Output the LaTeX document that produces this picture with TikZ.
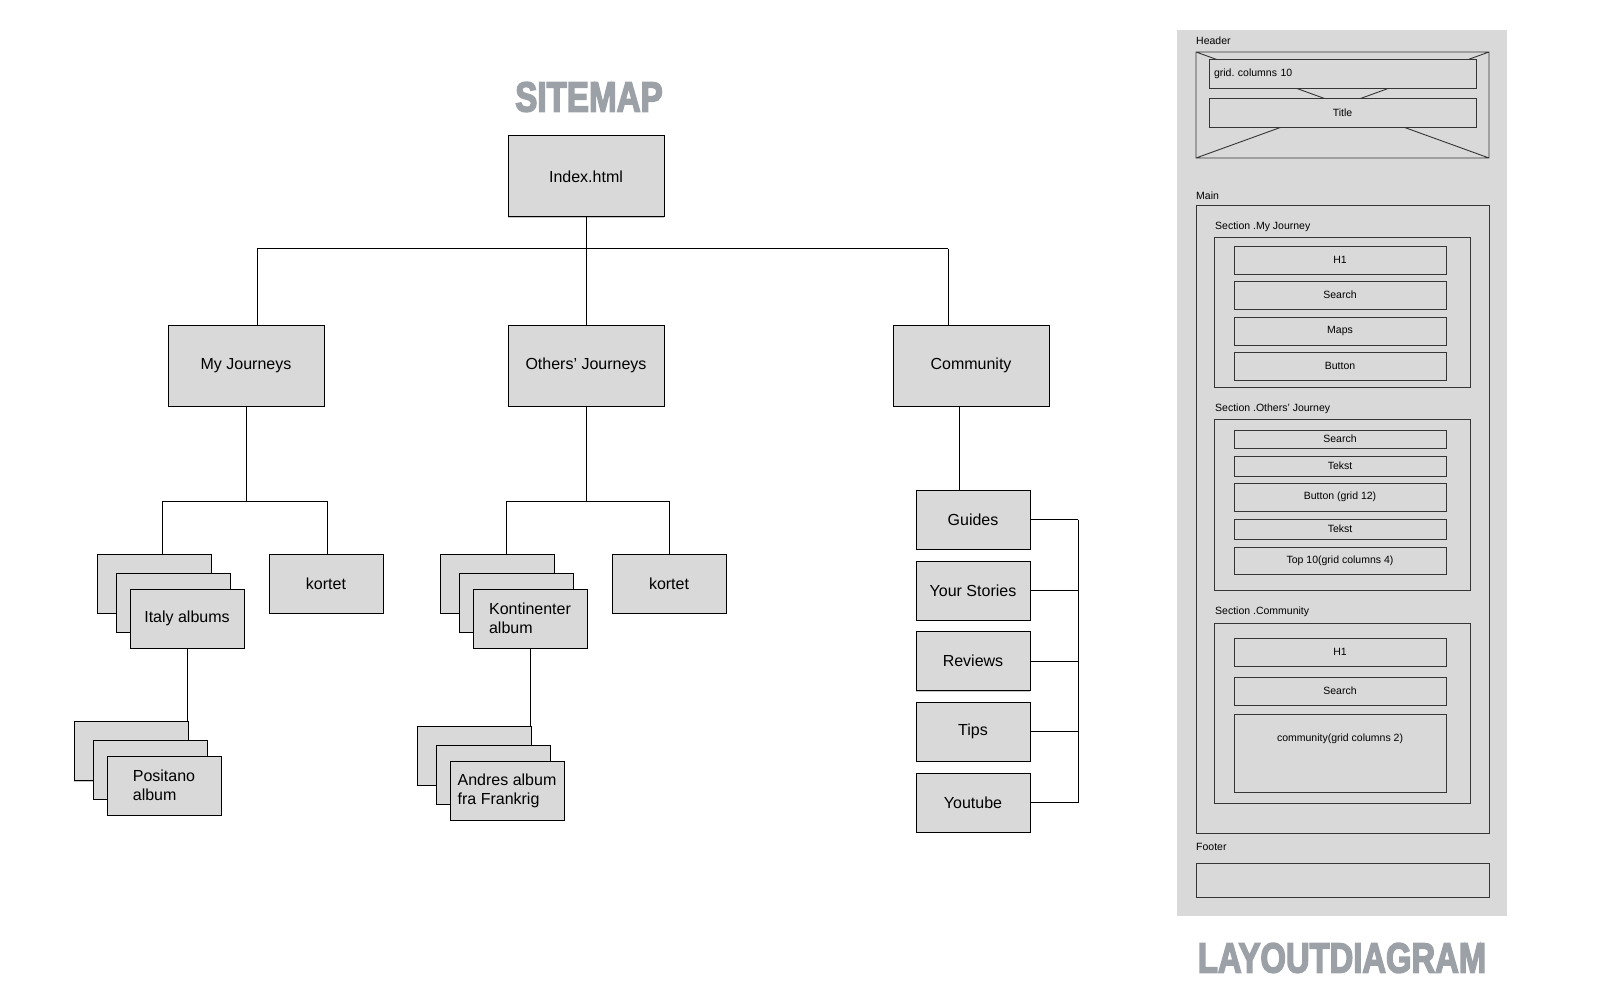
\documentclass[tikz,border=0pt]{standalone}
\usepackage{fontspec}
\setmainfont{Liberation Sans}
\newfontfamily\headfont[FakeBold=4]{Liberation Sans Bold}
\usepackage{graphicx}
\usetikzlibrary{shadows}
\definecolor{boxgray}{HTML}{D9D9D9}
\definecolor{titlegray}{HTML}{9BA1A6}
\definecolor{wiregray}{HTML}{353535}
\frenchspacing
\tikzset{
  page/.style={draw=black, line width=1pt, fill=boxgray, minimum width=114pt, minimum height=59pt, inner sep=0pt,
    font=\fontsize{16}{19}\selectfont, drop shadow={shadow xshift=0pt, shadow yshift=-1.2pt, opacity=0.45}},
  toppage/.style={page, minimum width=156pt, minimum height=81pt},
  link/.style={line width=1pt},
  frame/.style={draw=wiregray, line width=0.9pt},
  wire/.style={frame, fill=boxgray, minimum width=212pt, inner sep=0pt, font=\fontsize{10.5}{12}\selectfont},
  wlabel/.style={anchor=west, inner sep=0pt, font=\fontsize{10.5}{12}\selectfont},
  bigtitle/.style={text=titlegray, inner sep=0pt, font=\headfont\fontsize{42}{42}\selectfont},
}
\begin{document}
\begin{tikzpicture}[x=1pt,y=-1pt]
        \useasboundingbox (0,0) rectangle (1600,1000);
        % sitemap
        \node[bigtitle] (sitemap) at (589,97) {\scalebox{0.79}[1]{SITEMAP}};
        \node[toppage] (index) at (586,176.5) {Index.html};
        \node[toppage] (myj) at (246,365.5) {My Journeys};
        \node[toppage] (others) at (586,365.5) {Others’ Journeys};
        \node[toppage] (comm) at (971,365.5) {Community};
        \coordinate (busL) at (257,249);
        \coordinate (busR) at (948,249);
        \draw[link] (index.south) -- (others.north);
        \draw[link] (busL) -- (busR);
        \draw[link] (busL) -- (busL |- myj.north);
        \draw[link] (busR) -- (busR |- comm.north);

        \node[page] (italyback) at (154,583.5) {};
        \node[page] (italymid) at (173,602.5) {};
        \node[page] (italy) at (187,618.5) {Italy albums};
        \node[page] (kortetA) at (326,583.5) {kortet};
        \node[page] (positanoback) at (131,751) {};
        \node[page] (positanomid) at (150,769.5) {};
        \node[page, align=left] (positano) at (164,785.5) {Positano\\album};
        \coordinate (mjL) at (162,501);
        \coordinate (mjR) at (327,501);
        \draw[link] (myj.south) -- (myj.south |- mjL);
        \draw[link] (mjL) -- (mjR);
        \draw[link] (mjL) -- (mjL |- italyback.north);
        \draw[link] (mjR) -- (mjR |- kortetA.north);
        \draw[link] (italy.south) -- (italy.south |- positanoback.north);

        \node[page] (kontback) at (497,583.5) {};
        \node[page] (kontmid) at (516,602.5) {};
        \node[page, align=left] (kont) at (530,618.5) {Kontinenter\\album};
        \node[page] (kortetB) at (669,583.5) {kortet};
        \node[page] (andresback) at (474,755.5) {};
        \node[page] (andresmid) at (493,774.5) {};
        \node[page, align=left] (andres) at (507,790.5) {Andres album\\fra Frankrig};
        \coordinate (ojL) at (506,501);
        \coordinate (ojR) at (669,501);
        \draw[link] (others.south) -- (others.south |- ojL);
        \draw[link] (ojL) -- (ojR);
        \draw[link] (ojL) -- (ojL |- kontback.north);
        \draw[link] (ojR) -- (kortetB.north);
        \draw[link] (kont.south) -- (kont.south |- andresback.north);

        \node[page] (guides) at (973,519.5) {Guides};
        \node[page] (stories) at (973,590.5) {Your Stories};
        \node[page] (reviews) at (973,661) {Reviews};
        \node[page] (tips) at (973,731.5) {Tips};
        \node[page] (youtube) at (973,802.5) {Youtube};
        \coordinate (cbus) at (1078,0);
        \draw[link] ([xshift=-12pt]comm.south) -- ([xshift=-12pt]comm.south |- guides.north);
        \foreach \n in {guides,stories,reviews,tips,youtube}
          \draw[link] (\n.east) -- (\n.east -| cbus);
        \draw[link] (guides.east -| cbus) -- (youtube.east -| cbus);

        % layout diagram
        \fill[boxgray] (1177,30) rectangle (1507,916);
        \node[wlabel] (headerlbl) at (1196,41) {Header};
        \draw[frame] (1196,52) rectangle (1489,158) (1196,52) -- (1489,158) (1489,52) -- (1196,158);
        \node[wire, minimum width=267pt, minimum height=29pt, text width=257pt, align=left] (gridbox) at (1342.5,73.5) {grid. columns 10};
        \node[wire, minimum width=267pt, minimum height=29pt] (titlebox) at (1342.5,112.5) {Title};

        \node[wlabel] (mainlbl) at (1196,196) {Main};
        \draw[frame] (1196,205) rectangle (1489,833);

        \node[wlabel] (seclblA) at (1215,227) {Section .My Journey};
        \draw[frame] (1214,237) rectangle (1470,387);
        \node[wire, minimum height=28pt] (mjhead) at (1340,260) {H1};
        \node[wire, minimum height=28pt] (mjsearch) at (1340,295) {Search};
        \node[wire, minimum height=28pt] (mjmaps) at (1340,331) {Maps};
        \node[wire, minimum height=28pt] (mjbutton) at (1340,366) {Button};

        \node[wlabel] (seclblB) at (1215,409) {Section .Others’ Journey};
        \draw[frame] (1214,419) rectangle (1470,590);
        \node[wire, minimum height=18pt] (ojsearch) at (1340,439) {Search};
        \node[wire, minimum height=20pt] (ojtextA) at (1340,466) {Tekst};
        \node[wire, minimum height=28pt] (ojbutton) at (1340,497) {Button (grid 12)};
        \node[wire, minimum height=20pt] (ojtextB) at (1340,529) {Tekst};
        \node[wire, minimum height=27pt] (ojtop) at (1340,560.5) {Top 10(grid columns 4)};

        \node[wlabel] (seclblC) at (1215,612) {Section .Community};
        \draw[frame] (1214,623) rectangle (1470,803);
        \node[wire, minimum height=28pt] (cmhead) at (1340,652) {H1};
        \node[wire, minimum height=28pt] (cmsearch) at (1340,691) {Search};
        \node[wire, minimum height=78pt] (cmgrid) at (1340,753) {};
        \path (cmgrid.north) ++(0,25) node[font=\fontsize{10.5}{12}\selectfont, inner sep=0pt] (cmgridlbl) {community(grid columns 2)};

        \node[wlabel] (footerlbl) at (1196,847) {Footer};
        \draw[frame] (1196,863) rectangle (1489,897);

        \node[bigtitle] (layoutttl) at (1342,958) {\scalebox{0.78}[1]{LAYOUTDIAGRAM}};
\end{tikzpicture}
\end{document}
